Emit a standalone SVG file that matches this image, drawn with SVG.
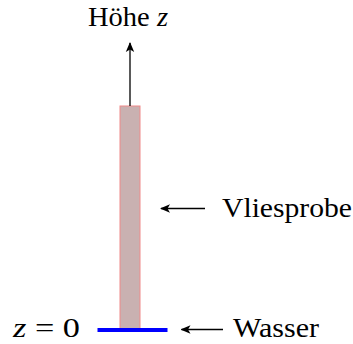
<svg xmlns="http://www.w3.org/2000/svg" width="353" height="344" viewBox="0 0 353 344">
<style>
text{font-family:"Liberation Serif","Times New Roman",serif;font-size:27px;fill:#000}
.it{font-style:italic}
.arr{stroke:#000;stroke-width:1.3;fill:none}
</style>
<defs>
<marker id="ah" viewBox="0 0 10 10" refX="9" refY="5" markerWidth="10" markerHeight="10" markerUnits="userSpaceOnUse" orient="auto">
<path d="M0,0.8 L10,5 L0,9.2 L2.5,5 Z" fill="#000"/>
</marker>
</defs>
<rect width="353" height="344" fill="#fff"/>
<g id="probe">
<rect x="120" y="106" width="20" height="224" fill="#c9b1b1" stroke="#f08a8a" stroke-width="1"/>
</g>
<g id="wasser-line">
<line x1="97.5" y1="330" x2="167.5" y2="330" stroke="#0000ff" stroke-width="4"/>
</g>
<g id="connectors">
<line class="arr" x1="130" y1="106" x2="130" y2="43" marker-end="url(#ah)"/>
<line class="arr" x1="205" y1="208.5" x2="161" y2="208.5" marker-end="url(#ah)"/>
<line class="arr" x1="223" y1="329.5" x2="181.5" y2="329.5" marker-end="url(#ah)"/>
</g>
<g id="label-hoehe">
<text x="88" y="26" textLength="80" lengthAdjust="spacingAndGlyphs">Höhe <tspan class="it">z</tspan></text>
</g>
<g id="label-vliesprobe">
<text x="222" y="216.7" textLength="130" lengthAdjust="spacingAndGlyphs">Vliesprobe</text>
</g>
<g id="label-wasser">
<text x="233" y="336.7" textLength="86" lengthAdjust="spacingAndGlyphs">Wasser</text>
</g>
<g id="label-z0">
<text x="13" y="336.7" textLength="67" lengthAdjust="spacingAndGlyphs"><tspan class="it">z</tspan> = 0</text>
</g>
</svg>
